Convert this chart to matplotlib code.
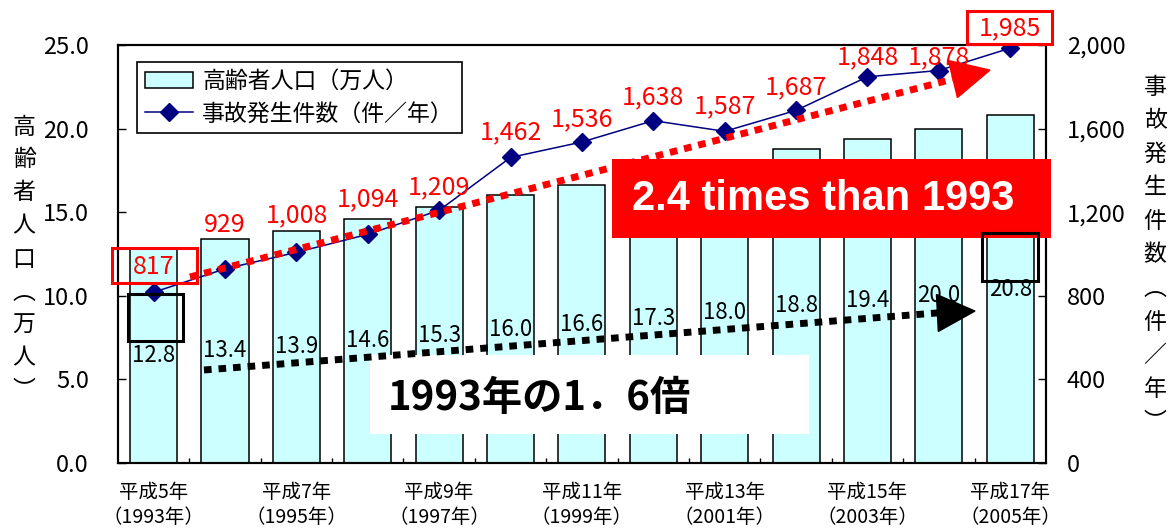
import numpy as np
import matplotlib.pyplot as plt
from matplotlib.patches import Rectangle, Polygon
from matplotlib.transforms import IdentityTransform

plt.rcParams['font.family'] = ['Noto Sans CJK JP', 'DejaVu Sans']
NARROW = ['Liberation Sans Narrow', 'DejaVu Sans Condensed', 'Noto Sans CJK JP']

# --- data ---
years = [1993, 1994, 1995, 1996, 1997, 1998, 1999, 2000, 2001, 2002, 2003, 2004, 2005]
heisei = [5, 6, 7, 8, 9, 10, 11, 12, 13, 14, 15, 16, 17]
elderly = [12.8, 13.4, 13.9, 14.6, 15.3, 16.0, 16.6, 17.3, 18.0, 18.8, 19.4, 20.0, 20.8]
accidents = [817, 929, 1008, 1094, 1209, 1462, 1536, 1638, 1587, 1687, 1848, 1878, 1985]

# where the red count labels sit (right axis units)
acc_label_y = [938, 1139, 1187, 1263, 1321, 1584, 1646, 1751, 1708, 1799, 1943, 1943, 2081]

fig = plt.figure(figsize=(11.69, 5.32), dpi=100)
ax1 = fig.add_axes([0.1009, 0.1297, 0.7938, 0.7857])
ax2 = ax1.twinx()

x = np.arange(len(years))

# --- bars: elderly population ---
ax1.bar(x, elderly, width=0.66, color='#CCFFFF', edgecolor='black',
        linewidth=1.1, label='高齢者人口（万人）')
for xi, v in zip(x, elderly):
    ax1.text(xi, v / 2, f'{v:.1f}', ha='center', va='center',
             fontsize=16, family=NARROW)

# --- line: accidents ---
ax2.plot(x, accidents, color='#000080', lw=1.1, marker='D', ms=9,
         label='事故発生件数（件／年）', zorder=3)
for xi, v, ly in zip(x, accidents, acc_label_y):
    ax2.text(xi, ly, f'{v:,}', color='red', ha='center', va='center',
             fontsize=18, family=NARROW, clip_on=False, zorder=6)

# --- axes ---
ax1.set_xlim(-0.5, len(years) - 0.5)
ax1.set_ylim(0, 25)
ax2.set_ylim(0, 2000)

ax1.set_xticks(x[::2])
ax1.set_xticklabels([f'平成{h}年\n（{y}年）' for h, y in zip(heisei[::2], years[::2])],
                    fontsize=14, family=NARROW, linespacing=1.25)
ax1.set_xticks(np.arange(0.5, len(years) - 1, 1), minor=True)
ax1.tick_params(axis='x', which='major', length=0, pad=14)
ax1.tick_params(axis='x', which='minor', direction='in', length=3.5, width=1)

ax1.set_yticks(np.arange(0, 26, 5))
ax1.set_yticklabels([f'{v:.1f}' for v in np.arange(0, 26, 5)], fontsize=17, family=NARROW)
ax1.tick_params(axis='y', direction='in', length=6, width=1, pad=21)

ax2.set_yticks(np.arange(0, 2001, 400))
ax2.set_yticklabels([f'{v:,}' for v in range(0, 2001, 400)], fontsize=17, family=NARROW)
ax2.tick_params(axis='y', direction='in', length=6, width=1, pad=15)

for a in (ax1, ax2):
    for s in a.spines.values():
        s.set_linewidth(1.5)

# vertical axis titles
for i, ch in enumerate('高齢者人口︵万人︶'):
    fig.text(24 / 1169, 1 - (127 + i * 33) / 532, ch, ha='center', va='center', fontsize=16.5)
for i, ch in enumerate('事故発生件数︵件／年︶'):
    fig.text(1155 / 1169, 1 - (87 + i * 33.6) / 532, ch, ha='center', va='center', fontsize=16.5)

# legend
h1, l1 = ax1.get_legend_handles_labels()
h2, l2 = ax2.get_legend_handles_labels()
leg = ax2.legend(h1 + h2, l1 + l2, loc='upper left', bbox_to_anchor=(0.0205, 0.959),
                 borderaxespad=0, fancybox=False, edgecolor='black', framealpha=1,
                 fontsize=16.5, handlelength=2.1, handleheight=0.65, borderpad=0.35,
                 labelspacing=0.4, handletextpad=0.4)
leg.get_frame().set_linewidth(1.2)

# --- annotations ---
ax2.add_patch(Rectangle((-0.584, 861), 1.191, 168, fill=False, ec='red', lw=2.2,
                        clip_on=False, zorder=5))
ax2.add_patch(Rectangle((11.394, 2005), 1.191, 158, fill=False, ec='red', lw=2.2,
                        clip_on=False, zorder=5))
ax2.add_patch(Rectangle((-0.36, 584), 0.77, 225, fill=False, ec='black', lw=2.2, zorder=5))
ax2.add_patch(Rectangle((11.604, 871), 0.785, 229, fill=False, ec='black', lw=2.2, zorder=5))

ax2.add_patch(Rectangle((6.42, 1077), 6.15, 378, fc='red', ec='none', clip_on=False, zorder=4))
ax2.text(9.377, 1263, '2.4 times than 1993', color='white', fontsize=30,
         fontweight='bold', family='Liberation Sans', ha='center', va='center', zorder=6)

ax2.add_patch(Rectangle((3.03, 139), 6.15, 378, fc='white', ec='none', zorder=4))
ax2.text(3.28, 311, '1993年の1．6倍', color='black', fontsize=29,
         fontweight='bold', ha='left', va='center', zorder=6)


def arrow_head(ax, tip, base, width_px, color):
    t = ax.transData.transform(tip)
    b = ax.transData.transform(base)
    d = t - b
    n = np.array([-d[1], d[0]]) / np.hypot(*d) * width_px / 2
    ax.add_patch(Polygon([t, b + n, b - n], closed=True, color=color,
                         transform=IdentityTransform(), clip_on=False, zorder=5))


ax2.plot([0.509, 11.198], [890, 1837], color='red', lw=5, dashes=(1.1, 1.0),
         dash_capstyle='butt', zorder=5)
arrow_head(ax2, (11.716, 1880), (11.198, 1837), 38, 'red')

ax2.plot([0.705, 10.98], [445, 718], color='black', lw=5, dashes=(1.1, 1.0),
         dash_capstyle='butt', zorder=5)
arrow_head(ax2, (11.506, 727), (10.98, 718), 37, 'black')

fig.savefig('out.png', dpi=100)
